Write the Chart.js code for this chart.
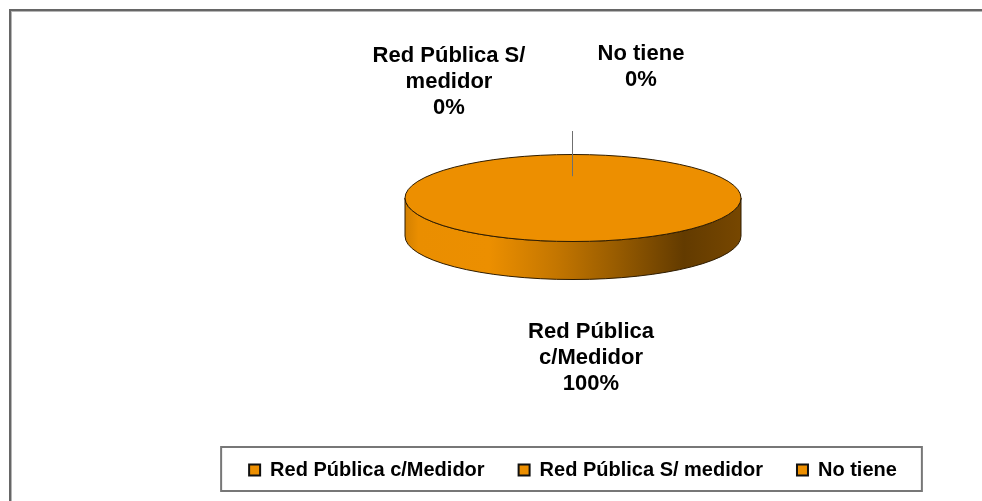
<!DOCTYPE html>
<html>
<head>
<meta charset="utf-8">
<script src="https://cdn.jsdelivr.net/npm/chart.js@4.4.1/dist/chart.umd.min.js"></script>
<style>
  html, body { margin: 0; padding: 0; background: #fff; }
  #wrap { width: 982px; height: 501px; }
</style>
</head>
<body>
<div id="wrap"><canvas id="chartAgua" width="982" height="501"></canvas></div>
<script>
// ================= DATOS =================
const categorias = ['Red Pública c/Medidor', 'Red Pública S/ medidor', 'No tiene'];
const etiquetas = [['Red Pública', 'c/Medidor'], ['Red Pública S/', 'medidor'], ['No tiene']];
const valores = [100, 0, 0];
const colores = ['#ED8F00', '#ED8F00', '#ED8F00'];

// ================= ESTILO / LAYOUT =================
const FUENTE = '"Liberation Sans", Arial, sans-serif';
const PIE_Y = 198;          // centro vertical de la cara superior
const ESCALA_Y = 0.259;     // aplastamiento de la elipse (efecto 3D)
const PROFUNDIDAD = 38;     // alto del borde lateral
// posición (línea base de la primera línea) de cada etiqueta de datos
const posEtiquetas = [{ x: 591, y: 338 }, { x: 449, y: 62 }, { x: 641, y: 60 }];

// ================= PLUGINS =================
const marcoPlugin = {
    id: 'marco',
    beforeDraw(chart) {
        const ctx = chart.ctx;
        ctx.save();
        ctx.strokeStyle = '#666';
        ctx.lineWidth = 2;
        ctx.strokeRect(10, 10, 1000, 600);
        ctx.strokeStyle = '#b5b5b5';
        ctx.lineWidth = 1;
        ctx.strokeRect(11.5, 11.5, 1000, 600);
        ctx.restore();
    }
};

const pie3dPlugin = {
    id: 'pie3d',
    beforeDatasetsDraw(chart) {
        const ctx = chart.ctx;
        const meta = chart.getDatasetMeta(0);
        const arc0 = meta.data[0];
        const cx = arc0.x, cy = arc0.y, r = arc0.outerRadius;
        const ry = r * ESCALA_Y;

        // borde lateral (solo la mitad frontal visible)
        const grad = ctx.createLinearGradient(cx - r, 0, cx + r, 0);
        grad.addColorStop(0, '#d38000');
        grad.addColorStop(0.04, '#ea8e00');
        grad.addColorStop(0.25, '#ec8f00');
        grad.addColorStop(0.45, '#c47600');
        grad.addColorStop(0.62, '#9a5d00');
        grad.addColorStop(0.83, '#633b00');
        grad.addColorStop(1, '#774700');

        ctx.save();
        meta.data.forEach(arc => {
            const { startAngle, endAngle } = arc.getProps(['startAngle', 'endAngle'], true);
            if (endAngle - startAngle <= 0) return;
            for (let k = -1; k <= 2; k++) {
                const s = Math.max(startAngle, 2 * Math.PI * k);
                const e = Math.min(endAngle, 2 * Math.PI * k + Math.PI);
                if (e <= s) continue;
                ctx.beginPath();
                ctx.ellipse(cx, PIE_Y, r, ry, 0, s, e, false);
                ctx.ellipse(cx, PIE_Y + PROFUNDIDAD, r, ry, 0, e, s, true);
                ctx.closePath();
                ctx.fillStyle = grad;
                ctx.fill();
                ctx.strokeStyle = '#2e1c00';
                ctx.lineWidth = 1;
                ctx.stroke();
            }
        });
        ctx.restore();

        // cara superior: Chart.js dibuja la torta aplastada
        ctx.save();
        ctx.translate(cx, PIE_Y);
        ctx.scale(1, ESCALA_Y);
        ctx.translate(-cx, -cy);
    },
    afterDatasetsDraw(chart) {
        const ctx = chart.ctx;
        ctx.restore();
        const meta = chart.getDatasetMeta(0);
        const arc0 = meta.data[0];
        const cx = arc0.x, r = arc0.outerRadius;
        const ry = r * ESCALA_Y;

        ctx.save();
        ctx.strokeStyle = '#2e1c00';
        ctx.lineWidth = 1;
        meta.data.forEach(arc => {
            const { startAngle, endAngle } = arc.getProps(['startAngle', 'endAngle'], true);
            const span = endAngle - startAngle;
            if (span <= 0) return;
            ctx.beginPath();
            if (span >= 2 * Math.PI - 1e-6) {
                ctx.ellipse(cx, PIE_Y, r, ry, 0, 0, 2 * Math.PI);
            } else {
                ctx.moveTo(cx, PIE_Y);
                ctx.ellipse(cx, PIE_Y, r, ry, 0, startAngle, endAngle);
                ctx.closePath();
            }
            ctx.stroke();
        });

        // línea guía hacia las etiquetas de 0%
        const a = meta.data[1].startAngle;
        const lx = Math.round(cx + 0.5 * r * Math.cos(a)) - 0.5;
        ctx.strokeStyle = '#6f6f6f';
        ctx.beginPath();
        ctx.moveTo(lx, PIE_Y + 0.5 * ry * Math.sin(a));
        ctx.lineTo(lx, 131);
        ctx.stroke();
        ctx.restore();
    }
};

const etiquetasPlugin = {
    id: 'etiquetas',
    afterDraw(chart) {
        const ctx = chart.ctx;
        const total = valores.reduce((s, v) => s + v, 0);
        ctx.save();
        ctx.fillStyle = '#000';
        ctx.font = 'bold 22px ' + FUENTE;
        ctx.textAlign = 'center';
        ctx.textBaseline = 'alphabetic';
        etiquetas.forEach((lineas, i) => {
            const p = posEtiquetas[i];
            const txt = lineas.concat([Math.round(valores[i] / total * 100) + '%']);
            txt.forEach((t, j) => ctx.fillText(t, p.x, p.y + j * 26));
        });

        // marco de la leyenda
        const boxes = chart.legend.legendHitBoxes;
        if (boxes && boxes.length) {
            const left = Math.min(...boxes.map(b => b.left));
            const right = Math.max(...boxes.map(b => b.left + b.width));
            const top = boxes[0].top;
            const h = boxes[0].height;
            ctx.strokeStyle = '#777';
            ctx.lineWidth = 2;
            ctx.strokeRect(left - 28, top - 13, right - left + 53, h + 24);
        }
        ctx.restore();
    }
};

// ================= GRÁFICO =================
const chartAgua = new Chart(document.getElementById('chartAgua'), {
    type: 'pie',
    data: {
        labels: categorias,
        datasets: [{
            data: valores,
            backgroundColor: colores,
            borderWidth: 0,
            radius: 168,
            clip: false
        }]
    },
    options: {
        responsive: false,
        animation: false,
        layout: { padding: { left: 164, right: 0, top: 0, bottom: 11 } },
        plugins: {
            tooltip: { enabled: false },
            legend: {
                position: 'bottom',
                labels: {
                    boxWidth: 11,
                    boxHeight: 11,
                    padding: 34,
                    color: '#000',
                    font: { family: FUENTE, size: 20, weight: 'bold' },
                    generateLabels: () => categorias.map((c, i) => ({
                        text: c,
                        fillStyle: colores[i],
                        strokeStyle: '#111',
                        lineWidth: 2,
                        hidden: false,
                        index: i,
                        fontColor: '#000'
                    }))
                }
            }
        }
    },
    plugins: [marcoPlugin, pie3dPlugin, etiquetasPlugin]
});
</script>
</body>
</html>
